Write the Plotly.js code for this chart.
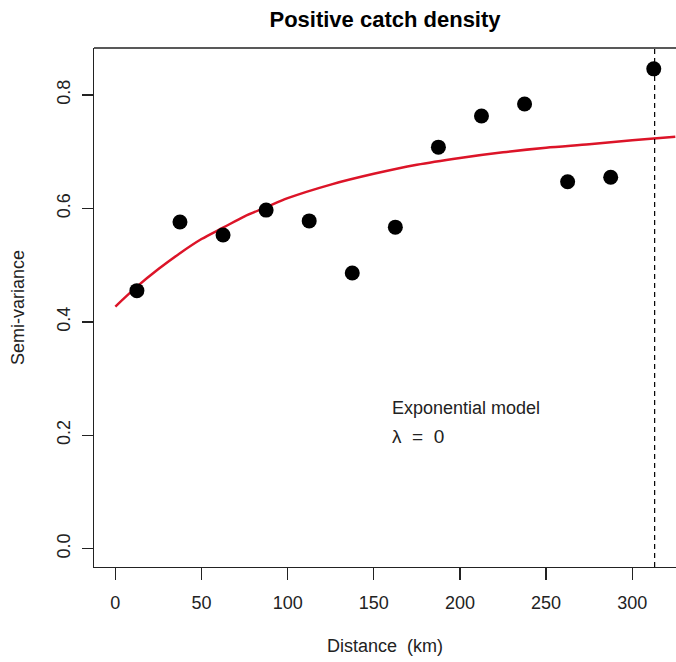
<!DOCTYPE html>
<html>
<head>
<meta charset="utf-8">
<script src="https://cdn.plot.ly/plotly-3.0.1.min.js"></script>
<style>html,body{margin:0;padding:0;background:#fff;}#chart{width:676px;height:662px;}</style>
</head>
<body>
<div id="chart"></div>
<script>
// Empirical semi-variogram points
var distance = [12.5, 37.5, 62.5, 87.5, 112.5, 137.5, 162.5, 187.5, 212.5, 237.5, 262.5, 287.5, 312.5];
var semivariance = [0.455, 0.576, 0.553, 0.597, 0.578, 0.486, 0.567, 0.708, 0.763, 0.784, 0.647, 0.655, 0.846];

// Fitted exponential model curve
var modelDistance = [0, 12.5, 25, 37.5, 50, 62.5, 75, 87.5, 100, 125, 150, 175, 200, 225, 250, 275, 300, 325];
var modelValue = [0.427, 0.462, 0.493, 0.521, 0.546, 0.566, 0.586, 0.602, 0.618, 0.642, 0.661, 0.677, 0.689, 0.699, 0.707, 0.713, 0.720, 0.7265];

var cutoffDistance = 313;

var xTicks = [0, 50, 100, 150, 200, 250, 300];
var yTicks = [0.0, 0.2, 0.4, 0.6, 0.8];

var titleText = "Positive catch density";
var xTitle = "Distance  (km)";
var yTitle = "Semi-variance";
var noteModel = "Exponential model";
var noteLambda = "\u03bb  =  0";

var fontFam = "Liberation Sans, Arial, sans-serif";

var traces = [
  {
    x: modelDistance, y: modelValue, type: "scatter", mode: "lines",
    line: {color: "rgb(220,20,40)", width: 2.5, shape: "spline", smoothing: 0.8},
    hoverinfo: "skip"
  },
  {
    x: distance, y: semivariance, type: "scatter", mode: "markers",
    marker: {color: "#000", size: 15}
  }
];

var layout = {
  width: 676, height: 662,
  margin: {l: 94, r: 0, t: 48, b: 95},
  paper_bgcolor: "#fff", plot_bgcolor: "#fff",
  showlegend: false,
  font: {family: fontFam, color: "#222", size: 18},
  title: {
    text: "<b>" + titleText + "</b>",
    font: {family: fontFam, size: 22, color: "#000"},
    x: 0.5, xref: "paper", y: 1 - 19 / 662, yanchor: "middle"
  },
  xaxis: {
    range: [-12.4, 325.4], showgrid: false, zeroline: false,
    showline: true, linecolor: "#222", linewidth: 1.3,
    ticks: "outside", ticklen: 12, tickwidth: 1.3, tickcolor: "#222",
    tickvals: xTicks, ticktext: xTicks.map(String),
    tickfont: {size: 18, color: "#222"},
    ticklabelstandoff: 7,
    title: {text: xTitle, font: {size: 18, color: "#222"}, standoff: 27}
  },
  yaxis: {
    range: [-0.0322, 0.8828], showgrid: false, zeroline: false,
    showline: true, linecolor: "#222", linewidth: 1.3,
    ticks: "outside", ticklen: 11, tickwidth: 1.3, tickcolor: "#222",
    tickvals: yTicks, ticktext: yTicks.map(function(v){return v.toFixed(1);}),
    tickangle: -90,
    tickfont: {size: 18, color: "#222"},
    ticklabelstandoff: 5,
    title: {text: yTitle, font: {size: 18, color: "#222"}, standoff: 24}
  },
  shapes: [
    {type: "line", xref: "paper", yref: "paper", x0: 0, x1: 1, y0: 1, y1: 1,
     line: {color: "#222", width: 1.3}},
    {type: "line", xref: "x", yref: "paper", x0: cutoffDistance, x1: cutoffDistance, y0: 0, y1: 1,
     line: {color: "#000", width: 1.2, dash: "5px,4px"}}
  ],
  annotations: [
    {x: 159.3, y: 0.248, xref: "x", yref: "y", text: noteModel, showarrow: false,
     xanchor: "left", yanchor: "middle", font: {size: 18, color: "#222"}},
    {x: 159.3, y: 0.197, xref: "x", yref: "y", text: noteLambda, showarrow: false,
     xanchor: "left", yanchor: "middle", font: {size: 19, color: "#222"}}
  ]
};

Plotly.newPlot("chart", traces, layout, {displayModeBar: false, staticPlot: true});
</script>
</body>
</html>
